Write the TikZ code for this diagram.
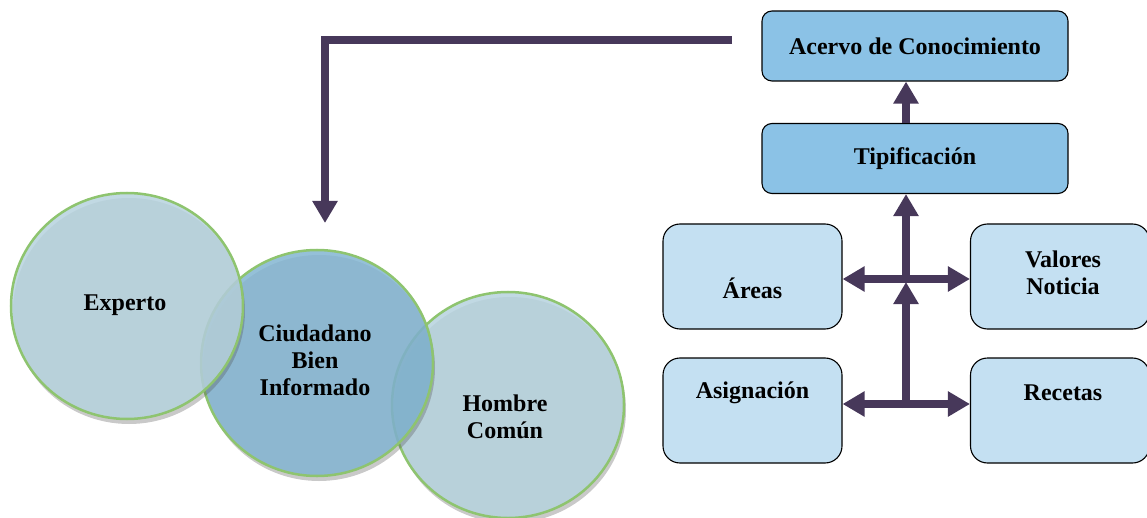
\documentclass[tikz,border=0pt]{standalone}
\usepackage{fontspec}
\setmainfont{Liberation Serif}
\usetikzlibrary{arrows.meta,shapes.geometric,shadows}
\definecolor{arrowc}{HTML}{47385A}
\definecolor{boxdark}{HTML}{8BC2E6}
\definecolor{boxlight}{HTML}{C4E0F2}
\definecolor{circlight}{HTML}{B6D2DE}
\definecolor{circmid}{HTML}{82B5D1}
\definecolor{circedge}{HTML}{8EC46F}
\begin{document}
\begin{tikzpicture}[x=1pt,y=-1pt,
  font=\fontsize{24}{27}\selectfont\bfseries,
  topbox/.style={draw=black, line width=1.1pt, rounded corners=10pt, fill=boxdark,
    minimum width=306pt, minimum height=70pt, inner sep=0pt},
  lowbox/.style={draw=black, line width=1.1pt, rounded corners=17pt, fill=boxlight,
    minimum width=179pt, minimum height=105pt, inner sep=0pt},
  circ/.style={ellipse, draw=circedge, line width=2.5pt, fill opacity=0.85,
    text opacity=1, minimum width=232pt, minimum height=226pt, inner sep=0pt,
    align=center,
    drop shadow={shadow xshift=2pt, shadow yshift=-5pt, fill=black!70, opacity=0.3}},
  lbl/.style={align=center, inner sep=0pt},
  conn/.style={draw=arrowc, line width=8pt, line join=miter,
    -{Triangle[width=24pt,length=22pt]}},
  dbl/.style={draw=arrowc, line width=8pt,
    {Triangle[width=24pt,length=22pt]}-{Triangle[width=24pt,length=22pt]}}]
\useasboundingbox (0,0) rectangle (1147,518);

% circles (bottom to top)
\node[circ, fill=circlight] (hc) at (508,405) {};
\node[circ, fill=circmid] (cbi) at (317,363) {};
\node[circ, fill=circlight] (exp) at (127,306) {};
\node[lbl] (exptxt) at (125,305) {Experto};
\node[lbl] (cbitxt) at (315,360) {Ciudadano\\Bien\\Informado};
\node[lbl] (hctxt) at (505,417) {Hombre\\Común};

% boxes
\node[topbox] (acervo) at (915,46) {Acervo de Conocimiento};
\node[topbox] (tipif) at (915,158.5) {Tipificación};
\node[lowbox] (areas) at (752.5,276.5) {};
\node[lbl] (areastxt) at (752.5,288) {Áreas};
\node[lowbox] (valores) at (1060,276.5) {};
\node[lbl] (valorestxt) at (1063,273) {Valores\\Noticia};
\node[lowbox] (asig) at (752.5,410.5) {};
\node[lbl] (asigtxt) at (752.5,393) {Asignación};
\node[lowbox] (recetas) at (1060,410.5) {};
\node[lbl] (recetastxt) at (1063,393) {Recetas};

% connectors
\coordinate (ux) at (906,279);
\coordinate (lx) at (906,404);
\coordinate (ustart) at (906,275);
\coordinate (lstart) at (906,408);
\draw[conn] (tipif.north -| ux) -- (acervo.south -| ux);
\draw[conn] (ustart) -- (tipif.south -| ux);
\draw[dbl] (areas.east |- ux) -- (valores.west |- ux);
\draw[conn] (lstart) -- (906,282);
\draw[dbl] (asig.east |- lx) -- (recetas.west |- lx);

\coordinate (topstart) at (732,40);
\coordinate (topend) at (325,223);
\draw[conn] (topstart) -| (topend);
\end{tikzpicture}
\end{document}
